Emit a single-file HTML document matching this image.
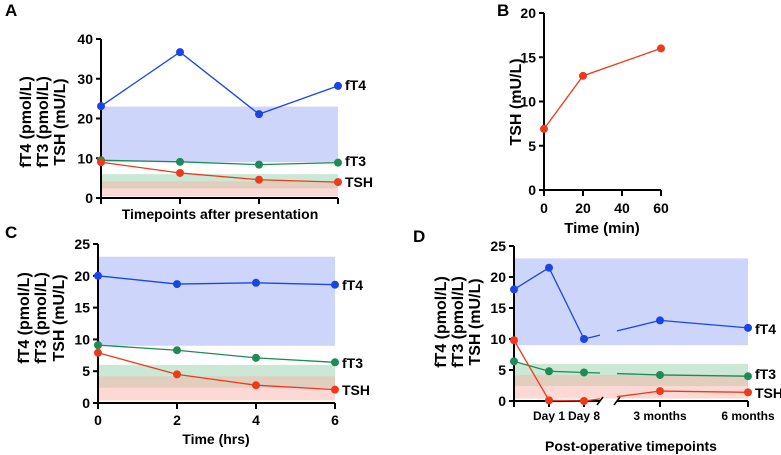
<!DOCTYPE html>
<html><head><meta charset="utf-8"><style>
body{margin:0;background:#fff;}
svg{display:block;font-family:"Liberation Sans",Arial,sans-serif;font-weight:bold;}
</style></head><body>
<svg id="c" width="781" height="455" viewBox="0 0 781 455"></svg>
<script>
const aX=[0,1,2,3];
const aFT4=[23.1,36.7,21.1,28.2];
const aFT3=[9.5,9.1,8.4,8.9];
const aTSH=[9.0,6.3,4.6,4.0];
const aYT=[0,10,20,30,40];
const bX=[0,20,60];
const bTSH=[6.9,12.9,16.0];
const bXT=[0,20,40,60];
const bYT=[0,5,10,15,20];
const cX=[0,2,4,6];
const cFT4=[20,18.7,18.9,18.6];
const cFT3=[9.1,8.3,7.1,6.4];
const cTSH=[7.9,4.5,2.8,2.1];
const cYT=[0,5,10,15,20,25];
const dX=[0,1,2,3,4];
const dLabels=["","Day 1","Day 8","3 months","6 months"];
const dFT4=[18,21.5,10,13,11.8];
const dFT3=[6.4,4.8,4.6,4.2,4.0];
const dTSH=[9.8,0.1,0,1.6,1.4];
const dYT=[0,5,10,15,20,25];
const bandFT4=[9,23], bandFT3=[2.4,6], bandTSH=[0.4,4.2];

const S=document.getElementById('c');
const NS='http://www.w3.org/2000/svg';
function el(t,a,txt){const e=document.createElementNS(NS,t);for(const k in a)e.setAttribute(k,a[k]);if(txt!==undefined)e.textContent=txt;S.appendChild(e);return e;}
const BLUE='#1a45e6',GREEN='#1e8a55',RED='#ee3a1c';

function lin(d0,d1,r0,r1){return v=>r0+(v-d0)*(r1-r0)/(d1-d0);}

function yaxis(x,y,ticks,name){
  const l=el('line',{x1:x,x2:x,y1:y(ticks[ticks.length-1]),y2:y(0),stroke:'#000','stroke-width':2});
  
  ticks.forEach(t=>{
    const tk=el('line',{x1:x-5,x2:x,y1:y(t),y2:y(t),stroke:'#000','stroke-width':2});
    
    const tx=el('text',{x:x-8,y:y(t)+5,'text-anchor':'end','font-size':14},t);
    
  });
}
function bands(x0,x1,y,name){
  [[bandFT4,'#cdd6fa','fT4'],[bandFT3,'rgba(150,210,170,0.5)','fT3'],[bandTSH,'rgba(250,180,170,0.5)','TSH']].forEach(b=>{
    const r=el('rect',{x:x0,y:y(b[0][1]),width:x1-x0,height:y(b[0][0])-y(b[0][1]),fill:b[1]});
    
  });
}
function series(xs,vals,x,y,col,name,skip){
  let d='';
  for(let i=0;i<xs.length;i++){
    if(skip!==undefined && i===skip+1){
      const xa=x(xs[skip]),xb=x(xs[skip+1]),ya=y(vals[skip]),yb=y(vals[skip+1]);
      const g0=(600-xa)/(xb-xa),g1=(617-xa)/(xb-xa);
      d+=` L${xa+(xb-xa)*g0},${ya+(yb-ya)*g0} M${xa+(xb-xa)*g1},${ya+(yb-ya)*g1} L${xb},${yb}`;
    } else d+=(i?' L':'M')+x(xs[i])+','+y(vals[i]);
  }
  const p=el('path',{d:d,fill:'none',stroke:col,'stroke-width':1.3});
  
  xs.forEach((v,i)=>{
    const c=el('circle',{cx:x(v),cy:y(vals[i]),r:4,fill:col});
    
  });
}
function ytitle(lines,xs,cy,name){
  lines.forEach((t,i)=>{
    const tx=el('text',{x:0,y:0,transform:`translate(${xs[i]},${cy}) rotate(-90)`,'text-anchor':'middle','font-size':16},t);
    
  });
}
function lbl(x,y,t,name){const e=el('text',{x:x,y:y,'font-size':14},t);return e;}
const YT3=['fT4 (pmol/L)','fT3 (pmol/L)','TSH (mU/L)'];

// Panel A
{const x=lin(0,3,101,338),y=lin(0,40,198,39);
 bands(101,338,y,'panel-a');
 yaxis(101,y,aYT,'panel-a');
 const xa=el('line',{x1:100,x2:338,y1:198,y2:198,stroke:'#000','stroke-width':2});
 aX.forEach(v=>{const t=el('line',{x1:x(v),x2:x(v),y1:198,y2:204,stroke:'#000','stroke-width':2});});
 series(aX,aFT3,x,y,GREEN,'panel-a-ft3');series(aX,aTSH,x,y,RED,'panel-a-tsh');series(aX,aFT4,x,y,BLUE,'panel-a-ft4');
 lbl(345,90,'fT4','panel-a-ft4-label');lbl(345,166,'fT3','panel-a-ft3-label');lbl(345,187,'TSH','panel-a-tsh-label');
 const xt=el('text',{x:220,y:219,'text-anchor':'middle','font-size':14},'Timepoints after presentation');
 ytitle(YT3,[31,48,65],122,'panel-a');
 const pl=el('text',{x:5,y:16,'font-size':17},'A');}

// Panel B
{const x=lin(0,60,544,661),y=lin(0,20,190,13);
 yaxis(544,y,bYT,'panel-b');
 const xa=el('line',{x1:543,x2:661,y1:190,y2:190,stroke:'#000','stroke-width':2});
 bXT.forEach(v=>{const t=el('line',{x1:x(v),x2:x(v),y1:190,y2:196,stroke:'#000','stroke-width':2});
  const tx=el('text',{x:x(v),y:213,'text-anchor':'middle','font-size':14},v);});
 series(bX,bTSH,x,y,RED,'panel-b-tsh');
 const xt=el('text',{x:602,y:233,'text-anchor':'middle','font-size':15},'Time (min)');
 ytitle(['TSH (mU/L)'],[521],102,'panel-b');
 const pl=el('text',{x:497,y:16,'font-size':17},'B');}

// Panel C
{const x=lin(0,6,98,335),y=lin(0,25,403,244);
 bands(98,335,y,'panel-c');
 yaxis(98,y,cYT,'panel-c');
 const xa=el('line',{x1:97,x2:335,y1:403,y2:403,stroke:'#000','stroke-width':2});
 cX.forEach(v=>{const t=el('line',{x1:x(v),x2:x(v),y1:403,y2:409,stroke:'#000','stroke-width':2});
  const tx=el('text',{x:x(v),y:425,'text-anchor':'middle','font-size':14},v);});
 series(cX,cFT3,x,y,GREEN,'panel-c-ft3');series(cX,cTSH,x,y,RED,'panel-c-tsh');series(cX,cFT4,x,y,BLUE,'panel-c-ft4');
 lbl(342,290,'fT4','panel-c-ft4-label');lbl(342,368,'fT3','panel-c-ft3-label');lbl(342,395,'TSH','panel-c-tsh-label');
 const xt=el('text',{x:216,y:444,'text-anchor':'middle','font-size':14},'Time (hrs)');
 ytitle(YT3,[29,46,64],318,'panel-c');
 const pl=el('text',{x:5,y:238,'font-size':17},'C');}

// Panel D
{const xf=v=>{if(v<=2)return 514+v*35;if(v<=3)return 584+(v-2)*76;return 660+(v-3)*88;};
 const y=lin(0,25,401,246);
 bands(514,748,y,'panel-d');
 yaxis(514,y,dYT,'panel-d');
 const xa=el('path',{d:'M513,401 L600,401 M617,401 L748,401',stroke:'#000','stroke-width':2,fill:'none'});
 const br=el('path',{d:'M597,405 L603,397 M614,405 L620,397',stroke:'#000','stroke-width':1.5,fill:'none'});
 dX.forEach((v,i)=>{const t=el('line',{x1:xf(v),x2:xf(v),y1:401,y2:407,stroke:'#000','stroke-width':2});
  if(dLabels[i]){const tx=el('text',{x:xf(v),y:420,'text-anchor':'middle','font-size':12},dLabels[i]);}});
 series(dX,dFT3,xf,y,GREEN,'panel-d-ft3',2);series(dX,dTSH,xf,y,RED,'panel-d-tsh',2);series(dX,dFT4,xf,y,BLUE,'panel-d-ft4',2);
 lbl(755,334,'fT4','panel-d-ft4-label');lbl(755,379,'fT3','panel-d-ft3-label');lbl(755,398,'TSH','panel-d-tsh-label');
 const xt=el('text',{x:631,y:451,'text-anchor':'middle','font-size':14},'Post-operative timepoints');
 ytitle(YT3,[446,463,480],322,'panel-d');
 const pl=el('text',{x:413,y:242,'font-size':17},'D');}
</script>
</body></html>
